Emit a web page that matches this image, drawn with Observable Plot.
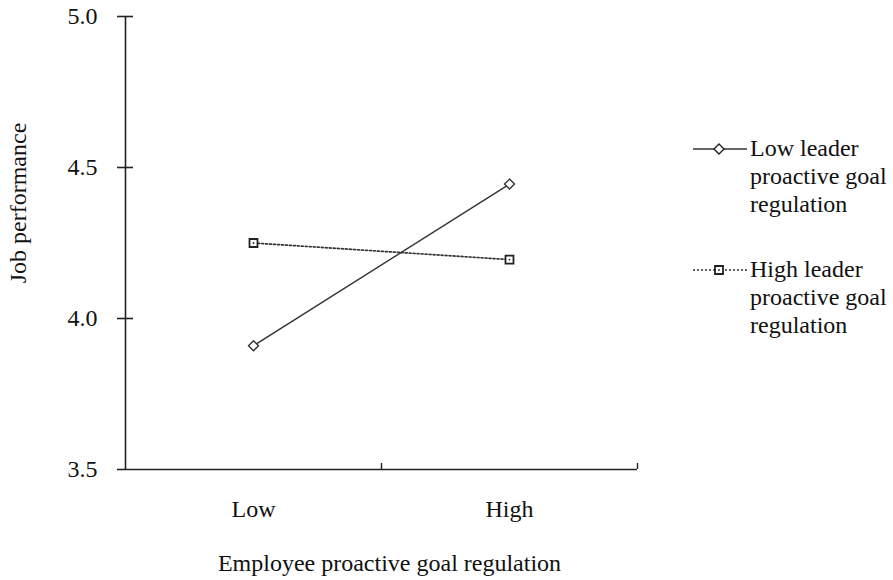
<!DOCTYPE html>
<html>
<head>
<meta charset="utf-8">
<script src="https://cdn.jsdelivr.net/npm/d3@7"></script>
<script src="https://cdn.jsdelivr.net/npm/@observablehq/plot@0.6"></script>
<style>
  body { margin: 0; background: white; }
  #wrap { position: relative; width: 893px; height: 580px; font-family: "Liberation Serif", "Times New Roman", serif; color: #111; }
  .leg { position: absolute; font-size: 24px; line-height: 28px; white-space: nowrap; }
  .sw { position: absolute; }
  #wrap svg text { font-family: "Liberation Serif", "Times New Roman", serif; }
</style>
</head>
<body>
<div id="wrap"></div>
<script>
const categories = ["Low", "High"];
const xPositions = [1, 2];
const lowLeader = [3.91, 4.445];
const highLeader = [4.25, 4.195];
const seriesNames = ["Low leader proactive goal regulation", "High leader proactive goal regulation"];
const yTicks = [3.5, 4.0, 4.5, 5.0];
const xBoundaries = [1.5, 2.5];
const xTitle = "Employee proactive goal regulation";
const yTitle = "Job performance";

const W = 893, H = 580;
const mL = 125, mR = 256, mT = 16, mB = 111;
const frameW = W - mL - mR, frameH = H - mT - mB;
const FONT = "'Liberation Serif', 'Times New Roman', serif";

const lowData = categories.map((c, i) => ({x: xPositions[i], y: lowLeader[i]}));
const highData = categories.map((c, i) => ({x: xPositions[i], y: highLeader[i]}));
const ink = "#222";

const chart = Plot.plot({
  width: W, height: H,
  marginLeft: mL, marginRight: mR, marginTop: mT, marginBottom: mB,
  style: {fontFamily: FONT, fontSize: "24px", color: "#111", background: "white"},
  x: {domain: [0.5, 2.5], axis: null},
  y: {domain: [3.5, 5.0], axis: null},
  marks: [
    Plot.ruleX([0.5], {stroke: ink, strokeWidth: 1.6}),
    Plot.ruleY([3.5], {stroke: ink, strokeWidth: 1.6}),
    Plot.axisY({ticks: yTicks, tickSize: 8, tickPadding: 20, tickFormat: d3.format(".1f"), stroke: ink, strokeWidth: 1.6, fill: "#111", fontFamily: FONT, label: null}),
    Plot.tickY(yTicks.slice(1), {y: d => d, insetRight: frameW - 8, stroke: ink, strokeWidth: 1.6}),
    Plot.tickX(xBoundaries, {x: d => d, insetTop: frameH - 6, stroke: ink, strokeWidth: 1.4}),
    Plot.text(categories, {x: (d, i) => xPositions[i], text: d => d, frameAnchor: "bottom", lineAnchor: "middle", dy: 40, fill: "#111"}),
    Plot.text([xTitle], {text: d => d, frameAnchor: "bottom", lineAnchor: "middle", textAnchor: "middle", dx: 8, dy: 94, fill: "#111"}),
    Plot.text([yTitle], {text: d => d, frameAnchor: "left", textAnchor: "middle", lineAnchor: "middle", rotate: -90, dx: -107, dy: -40, fill: "#111"}),
    Plot.line(lowData, {x: "x", y: "y", stroke: "#333", strokeWidth: 1.4}),
    Plot.line(highData, {x: "x", y: "y", stroke: "#333", strokeWidth: 1.7, strokeDasharray: "2,2"}),
    Plot.dot(lowData, {x: "x", y: "y", symbol: "diamond2", r: 4.5, stroke: "#333", fill: "white", strokeWidth: 1.4}),
    Plot.dot(highData, {x: "x", y: "y", symbol: "square", r: 4.5, stroke: "#222", fill: "white", strokeWidth: 1.8}),
    Plot.dot(highData, {x: "x", y: "y", r: 0.9, fill: "#222", stroke: null})
  ]
});

const wrap = document.getElementById("wrap");
wrap.appendChild(chart);
chart.style.position = "absolute";
chart.style.left = "0px";
chart.style.top = "0px";

function addLegend(name, top, dashed, symbol) {
  const ns = "http://www.w3.org/2000/svg";
  const sw = document.createElementNS(ns, "svg");
  sw.setAttribute("width", 58); sw.setAttribute("height", 20);
  sw.setAttribute("class", "sw");
  sw.style.left = "691px"; sw.style.top = (top + 15 - 10) + "px";
  const ln = document.createElementNS(ns, "line");
  ln.setAttribute("x1", 2); ln.setAttribute("x2", 56); ln.setAttribute("y1", 10); ln.setAttribute("y2", 10);
  ln.setAttribute("stroke", "#333"); ln.setAttribute("stroke-width", dashed ? 1.7 : 1.4);
  if (dashed) ln.setAttribute("stroke-dasharray", "2,2");
  sw.appendChild(ln);
  const sym = document.createElementNS(ns, "path");
  sym.setAttribute("d", d3.symbol(symbol === "diamond" ? d3.symbolDiamond2 : d3.symbolSquare, 64)());
  sym.setAttribute("transform", "translate(28,10)");
  sym.setAttribute("fill", "white"); sym.setAttribute("stroke", "#222"); sym.setAttribute("stroke-width", symbol === "diamond" ? 1.4 : 1.8);
  sw.appendChild(sym);
  if (symbol !== "diamond") {
    const c = document.createElementNS(ns, "circle");
    c.setAttribute("cx", 28); c.setAttribute("cy", 10); c.setAttribute("r", 0.9); c.setAttribute("fill", "#222");
    sw.appendChild(c);
  }
  wrap.appendChild(sw);
  const div = document.createElement("div");
  div.className = "leg";
  div.style.left = "750px"; div.style.top = top + "px";
  const words = name.split(" ");
  div.innerHTML = words.slice(0, 2).join(" ") + "<br>" + words.slice(2, 4).join(" ") + "<br>" + words.slice(4).join(" ");
  wrap.appendChild(div);
}
addLegend(seriesNames[0], 134, false, "diamond");
addLegend(seriesNames[1], 255, true, "square");
</script>
</body>
</html>
